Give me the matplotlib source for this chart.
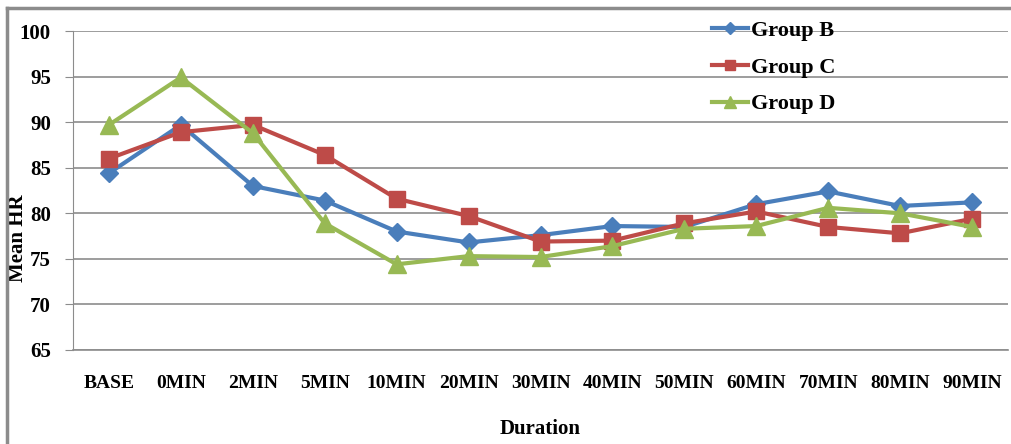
import numpy as np
import matplotlib
matplotlib.use('Agg')
import matplotlib.pyplot as plt
from matplotlib.lines import Line2D

durations = ['BASE', '0MIN', '2MIN', '5MIN', '10MIN', '20MIN', '30MIN',
             '40MIN', '50MIN', '60MIN', '70MIN', '80MIN', '90MIN']
group_b = [84.4, 89.7, 83.0, 81.4, 78.0, 76.8, 77.6, 78.6, 78.5, 81.0, 82.4, 80.8, 81.2]
group_c = [86.0, 88.9, 89.7, 86.4, 81.6, 79.7, 76.9, 77.0, 78.9, 80.2, 78.5, 77.8, 79.4]
group_d = [89.7, 94.9, 88.8, 78.9, 74.4, 75.3, 75.2, 76.4, 78.3, 78.6, 80.6, 80.0, 78.5]

plt.rcParams['font.family'] = ['Liberation Serif', 'DejaVu Serif']
plt.rcParams['font.weight'] = 'bold'

W, H = 1011, 444
fig = plt.figure(figsize=(W / 100, H / 100), dpi=100)
# outer frame (only top and left edges are visible in the picture)
fig.add_artist(Line2D([7 / W, 7 / W], [0, 1 - 8 / H], color='#8c8c8c', lw=2.5))
fig.add_artist(Line2D([7 / W, 1], [1 - 8 / H, 1 - 8 / H], color='#8c8c8c', lw=2.5))

ax = fig.add_axes([73 / W, 1 - 350 / H, 935 / W, 319 / H])

x = np.arange(len(durations))
ax.plot(x, group_b, color='#4a7ebb', lw=3, marker='D', ms=9, label='Group B')
ax.plot(x, group_c, color='#be4b48', lw=3, marker='s', ms=12, label='Group C')
ax.plot(x, group_d, color='#98b954', lw=3, marker='^', ms=13, label='Group D')

ax.set_ylim(65, 100)
ax.set_xlim(-0.5, len(durations) - 0.5)
ax.set_yticks(np.arange(65, 101, 5))
ax.set_xticks(x)
ax.set_xticklabels(durations, fontsize=14, fontweight='bold')
ax.tick_params(axis='y', labelsize=15, length=6, color='#8c8c8c', pad=10)
ax.tick_params(axis='x', length=0, pad=18)
for lab in ax.get_yticklabels():
    lab.set_fontweight('bold')

ax.grid(axis='y', color='#8c8c8c', lw=1.2)
ax.set_axisbelow(True)
for s in ['top', 'right']:
    ax.spines[s].set_visible(False)
ax.spines['left'].set_color('#8c8c8c')
ax.spines['bottom'].set_color('#8c8c8c')
ax.spines['bottom'].set_linewidth(1.2)

ax.set_xlabel('Duration', fontsize=15, fontweight='bold')
ax.xaxis.set_label_coords(0.5, -0.215)
ax.set_ylabel('Mean HR', fontsize=15, fontweight='bold')
ax.yaxis.set_label_coords(-0.048, 0.35)

leg = ax.legend(loc='upper left', bbox_to_anchor=(0.662, 1.095), frameon=False,
                fontsize=16, labelspacing=0.72, handlelength=1.6, handletextpad=0.15,
                markerscale=0.65)
for t in leg.get_texts():
    t.set_fontweight('bold')

fig.savefig('out.png', dpi=100)
